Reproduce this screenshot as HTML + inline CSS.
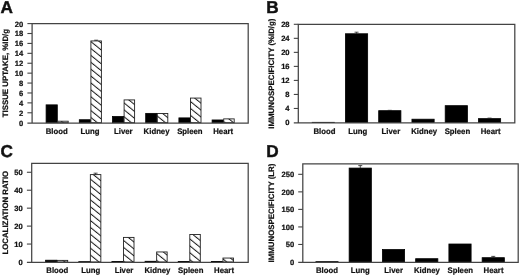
<!DOCTYPE html>
<html><head><meta charset="utf-8"><style>
html,body{margin:0;padding:0;background:#fff;}
body{width:520px;height:276px;overflow:hidden;}
svg{display:block;will-change:transform;filter:blur(0.3px);}
text{-webkit-font-smoothing:antialiased;stroke:#111;stroke-width:0.22px;text-rendering:geometricPrecision;font-family:"Liberation Sans", sans-serif;font-weight:bold;fill:#111;}
.let{font-size:17.2px;stroke-width:0.45px;}
.ttl{font-size:7.85px;text-anchor:middle;}
.tk{font-size:7.6px;text-anchor:end;}
.cat{font-size:8.1px;text-anchor:middle;}
.ax{stroke:#444;stroke-width:1.1;}
.fr{stroke:#444;stroke-width:1.25;fill:none;}
.bk{fill:#000;stroke:#000;stroke-width:0.8;}
.ht{fill:url(#hp);stroke:#222;stroke-width:0.9;}
.er{stroke:#222;stroke-width:0.8;}
</style></head><body>
<svg width="520" height="276" viewBox="0 0 520 276">
<defs><pattern id="hp" patternUnits="userSpaceOnUse" width="5.36" height="5.36" patternTransform="translate(0 3.15) rotate(-51)">
<rect width="5.36" height="5.36" fill="#fff"/><line x1="0.5" y1="0" x2="0.5" y2="5.36" stroke="#1a1a1a" stroke-width="1.05"/></pattern></defs>
<rect width="520" height="276" fill="#fff"/>
<text x="0.4" y="12.9" class="let">A</text>
<text transform="translate(7.9 73.1) rotate(-90)" class="ttl">TISSUE UPTAKE, %ID/g</text>
<text transform="translate(23.2 125.65) scale(1 1)" class="tk">0</text>
<line x1="27.4" y1="112.79" x2="32.1" y2="112.79" class="ax"/>
<text transform="translate(23.2 115.74) scale(1 1)" class="tk">2</text>
<line x1="27.4" y1="102.88" x2="32.1" y2="102.88" class="ax"/>
<text transform="translate(23.2 105.83) scale(1 1)" class="tk">4</text>
<line x1="27.4" y1="92.97" x2="32.1" y2="92.97" class="ax"/>
<text transform="translate(23.2 95.92) scale(1 1)" class="tk">6</text>
<line x1="27.4" y1="83.06" x2="32.1" y2="83.06" class="ax"/>
<text transform="translate(23.2 86.01) scale(1 1)" class="tk">8</text>
<line x1="27.4" y1="73.15" x2="32.1" y2="73.15" class="ax"/>
<text transform="translate(23.2 76.1) scale(1 1)" class="tk">10</text>
<line x1="27.4" y1="63.24" x2="32.1" y2="63.24" class="ax"/>
<text transform="translate(23.2 66.19) scale(1 1)" class="tk">12</text>
<line x1="27.4" y1="53.33" x2="32.1" y2="53.33" class="ax"/>
<text transform="translate(23.2 56.28) scale(1 1)" class="tk">14</text>
<line x1="27.4" y1="43.42" x2="32.1" y2="43.42" class="ax"/>
<text transform="translate(23.2 46.37) scale(1 1)" class="tk">16</text>
<line x1="27.4" y1="33.51" x2="32.1" y2="33.51" class="ax"/>
<text transform="translate(23.2 36.46) scale(1 1)" class="tk">18</text>
<line x1="27.4" y1="23.6" x2="32.1" y2="23.6" class="ax"/>
<text transform="translate(23.2 26.55) scale(1 1)" class="tk">20</text>
<rect x="46.1" y="104.86" width="11.2" height="17.84" class="bk"/>
<rect x="57.7" y="121.21" width="10.5" height="1.49" class="ht"/>
<text transform="translate(56.7 133.9) scale(0.96 1)" class="cat">Blood</text>
<rect x="79.3" y="119.73" width="11.2" height="2.97" class="bk"/>
<rect x="90.9" y="40.94" width="10.5" height="81.76" class="ht"/>
<line x1="94.15" y1="40.2" x2="98.15" y2="40.2" class="er"/>
<line x1="96.15" y1="40.2" x2="96.15" y2="40.94" class="er"/>
<text transform="translate(89.99 133.9) scale(0.96 1)" class="cat">Lung</text>
<rect x="112.5" y="116.51" width="11.2" height="6.19" class="bk"/>
<rect x="124.1" y="99.91" width="10.5" height="22.79" class="ht"/>
<text transform="translate(123.28 133.9) scale(0.96 1)" class="cat">Liver</text>
<rect x="145.7" y="113.38" width="11.2" height="9.32" class="bk"/>
<rect x="157.3" y="113.48" width="10.5" height="9.22" class="ht"/>
<text transform="translate(156.57 133.9) scale(0.96 1)" class="cat">Kidney</text>
<rect x="178.9" y="117.89" width="11.2" height="4.81" class="bk"/>
<rect x="190.5" y="98.07" width="10.5" height="24.63" class="ht"/>
<text transform="translate(189.86 133.9) scale(0.96 1)" class="cat">Spleen</text>
<rect x="212.1" y="119.97" width="11.2" height="2.73" class="bk"/>
<rect x="223.7" y="118.88" width="10.5" height="3.82" class="ht"/>
<text transform="translate(223.15 133.9) scale(0.96 1)" class="cat">Heart</text>
<path d="M27.4 123.05H248.2V23.6H32.1V123.05" class="fr"/>
<text x="266.2" y="12.9" class="let">B</text>
<text transform="translate(273.9 73.6) rotate(-90)" class="ttl">IMMUNOSPECIFICITY (%ID/g)</text>
<text transform="translate(289.6 125.45) scale(1 1)" class="tk">0</text>
<line x1="293.8" y1="108.47" x2="298.3" y2="108.47" class="ax"/>
<text transform="translate(289.6 111.42) scale(1 1)" class="tk">4</text>
<line x1="293.8" y1="94.44" x2="298.3" y2="94.44" class="ax"/>
<text transform="translate(289.6 97.39) scale(1 1)" class="tk">8</text>
<line x1="293.8" y1="80.41" x2="298.3" y2="80.41" class="ax"/>
<text transform="translate(289.6 83.36) scale(1 1)" class="tk">12</text>
<line x1="293.8" y1="66.39" x2="298.3" y2="66.39" class="ax"/>
<text transform="translate(289.6 69.34) scale(1 1)" class="tk">16</text>
<line x1="293.8" y1="52.36" x2="298.3" y2="52.36" class="ax"/>
<text transform="translate(289.6 55.31) scale(1 1)" class="tk">20</text>
<line x1="293.8" y1="38.33" x2="298.3" y2="38.33" class="ax"/>
<text transform="translate(289.6 41.28) scale(1 1)" class="tk">24</text>
<line x1="293.8" y1="24.3" x2="298.3" y2="24.3" class="ax"/>
<text transform="translate(289.6 27.25) scale(1 1)" class="tk">28</text>
<rect x="312.2" y="122.32" width="22.2" height="0.18" class="bk"/>
<text transform="translate(324.4 133.7) scale(0.96 1)" class="cat">Blood</text>
<rect x="345.45" y="33.77" width="22.2" height="88.73" class="bk"/>
<line x1="354.55" y1="32.19" x2="358.55" y2="32.19" class="er"/>
<line x1="356.55" y1="32.19" x2="356.55" y2="33.77" class="er"/>
<text transform="translate(357.65 133.7) scale(0.96 1)" class="cat">Lung</text>
<rect x="378.7" y="110.68" width="22.2" height="11.82" class="bk"/>
<line x1="387.8" y1="110.33" x2="391.8" y2="110.33" class="er"/>
<line x1="389.8" y1="110.33" x2="389.8" y2="110.68" class="er"/>
<text transform="translate(390.9 133.7) scale(0.96 1)" class="cat">Liver</text>
<rect x="411.95" y="119.2" width="22.2" height="3.3" class="bk"/>
<text transform="translate(424.15 133.7) scale(0.96 1)" class="cat">Kidney</text>
<rect x="445.2" y="105.67" width="22.2" height="16.83" class="bk"/>
<text transform="translate(457.4 133.7) scale(0.96 1)" class="cat">Spleen</text>
<rect x="478.45" y="118.64" width="22.2" height="3.86" class="bk"/>
<line x1="487.55" y1="118.12" x2="491.55" y2="118.12" class="er"/>
<line x1="489.55" y1="118.12" x2="489.55" y2="118.64" class="er"/>
<text transform="translate(490.65 133.7) scale(0.96 1)" class="cat">Heart</text>
<path d="M293.8 122.85H514.8V24.3H298.3V122.85" class="fr"/>
<text x="0.4" y="156.5" class="let">C</text>
<text transform="translate(7.9 212.7) rotate(-90)" class="ttl">LOCALIZATION RATIO</text>
<text transform="translate(22.7 264.95) scale(1 1)" class="tk">0</text>
<line x1="26.9" y1="244.05" x2="31.7" y2="244.05" class="ax"/>
<text transform="translate(22.7 247) scale(1 1)" class="tk">10</text>
<line x1="26.9" y1="226.11" x2="31.7" y2="226.11" class="ax"/>
<text transform="translate(22.7 229.06) scale(1 1)" class="tk">20</text>
<line x1="26.9" y1="208.16" x2="31.7" y2="208.16" class="ax"/>
<text transform="translate(22.7 211.11) scale(1 1)" class="tk">30</text>
<line x1="26.9" y1="190.22" x2="31.7" y2="190.22" class="ax"/>
<text transform="translate(22.7 193.17) scale(1 1)" class="tk">40</text>
<line x1="26.9" y1="172.27" x2="31.7" y2="172.27" class="ax"/>
<text transform="translate(22.7 175.22) scale(1 1)" class="tk">50</text>
<rect x="45.6" y="260.21" width="11.2" height="1.79" class="bk"/>
<rect x="57.2" y="260.38" width="10.5" height="1.62" class="ht"/>
<text transform="translate(57.3 273.1) scale(0.96 1)" class="cat">Blood</text>
<rect x="78.75" y="261.64" width="11.2" height="0.36" class="bk"/>
<rect x="90.35" y="174.61" width="10.5" height="87.39" class="ht"/>
<line x1="93.6" y1="173.17" x2="97.6" y2="173.17" class="er"/>
<line x1="95.6" y1="173.17" x2="95.6" y2="174.61" class="er"/>
<text transform="translate(90.65 273.1) scale(0.96 1)" class="cat">Lung</text>
<rect x="111.9" y="261.46" width="11.2" height="0.54" class="bk"/>
<rect x="123.5" y="237.41" width="10.5" height="24.59" class="ht"/>
<text transform="translate(124 273.1) scale(0.96 1)" class="cat">Liver</text>
<rect x="145.05" y="261.28" width="11.2" height="0.72" class="bk"/>
<rect x="156.65" y="251.95" width="10.5" height="10.05" class="ht"/>
<text transform="translate(157.35 273.1) scale(0.96 1)" class="cat">Kidney</text>
<rect x="178.2" y="261.46" width="11.2" height="0.54" class="bk"/>
<rect x="189.8" y="234.54" width="10.5" height="27.46" class="ht"/>
<text transform="translate(190.7 273.1) scale(0.96 1)" class="cat">Spleen</text>
<rect x="211.35" y="261.46" width="11.2" height="0.54" class="bk"/>
<rect x="222.95" y="258.05" width="10.5" height="3.95" class="ht"/>
<text transform="translate(224.05 273.1) scale(0.96 1)" class="cat">Heart</text>
<path d="M26.9 262.35H248.2V163.3H31.7V262.35" class="fr"/>
<text x="266.2" y="156.5" class="let">D</text>
<text transform="translate(273.7 213) rotate(-90)" class="ttl">IMMUNOSPECIFICITY (LR)</text>
<text transform="translate(294.2 264.95) scale(1 1)" class="tk">0</text>
<line x1="298.2" y1="244.46" x2="302.8" y2="244.46" class="ax"/>
<text transform="translate(294.2 247.41) scale(1 1)" class="tk">50</text>
<line x1="298.2" y1="226.93" x2="302.8" y2="226.93" class="ax"/>
<text transform="translate(294.2 229.88) scale(1 1)" class="tk">100</text>
<line x1="298.2" y1="209.39" x2="302.8" y2="209.39" class="ax"/>
<text transform="translate(294.2 212.34) scale(1 1)" class="tk">150</text>
<line x1="298.2" y1="191.86" x2="302.8" y2="191.86" class="ax"/>
<text transform="translate(294.2 194.81) scale(1 1)" class="tk">200</text>
<line x1="298.2" y1="174.32" x2="302.8" y2="174.32" class="ax"/>
<text transform="translate(294.2 177.27) scale(1 1)" class="tk">250</text>
<rect x="315.9" y="261.65" width="22.2" height="0.35" class="bk"/>
<text transform="translate(327 273.1) scale(0.96 1)" class="cat">Blood</text>
<rect x="349.15" y="168.08" width="22.2" height="93.92" class="bk"/>
<line x1="358.25" y1="165.62" x2="362.25" y2="165.62" class="er"/>
<line x1="360.25" y1="165.62" x2="360.25" y2="168.08" class="er"/>
<text transform="translate(360.31 273.1) scale(0.96 1)" class="cat">Lung</text>
<rect x="382.4" y="249.58" width="22.2" height="12.42" class="bk"/>
<text transform="translate(393.62 273.1) scale(0.96 1)" class="cat">Liver</text>
<rect x="415.65" y="258.7" width="22.2" height="3.3" class="bk"/>
<text transform="translate(426.93 273.1) scale(0.96 1)" class="cat">Kidney</text>
<rect x="448.9" y="244.01" width="22.2" height="17.99" class="bk"/>
<text transform="translate(460.24 273.1) scale(0.96 1)" class="cat">Spleen</text>
<rect x="482.15" y="257.69" width="22.2" height="4.31" class="bk"/>
<line x1="491.25" y1="256.39" x2="495.25" y2="256.39" class="er"/>
<line x1="493.25" y1="256.39" x2="493.25" y2="257.69" class="er"/>
<text transform="translate(493.55 273.1) scale(0.96 1)" class="cat">Heart</text>
<path d="M298.2 262.35H518.2V163.8H302.8V262.35" class="fr"/>
</svg>
</body></html>
